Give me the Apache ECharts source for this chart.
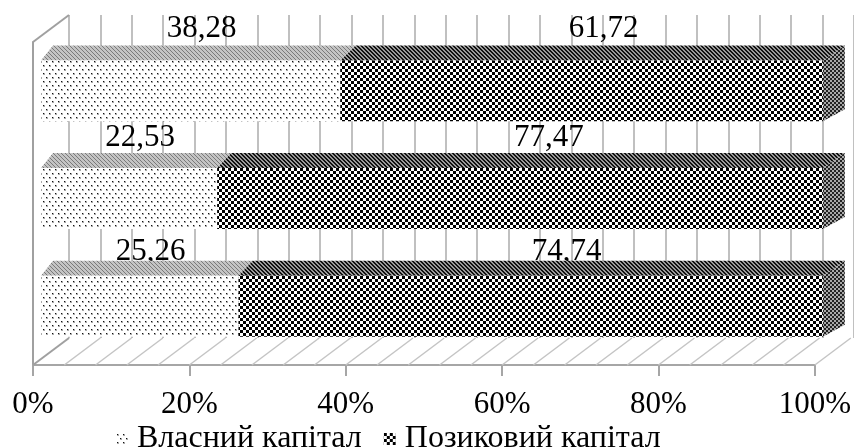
<!DOCTYPE html>
<html>
<head>
<meta charset="utf-8">
<script src="https://cdn.jsdelivr.net/npm/echarts@6/dist/echarts.min.js"></script>
<style>
  html, body { margin: 0; padding: 0; background: #fff; }
  #chart { width: 854px; height: 448px; }
</style>
</head>
<body>
<div id="chart"></div>
<script>
// дані: знизу вгору
const categories = ['1', '2', '3'];
const ownCapital = [25.26, 22.53, 38.28];
const borrowedCapital = [74.74, 77.47, 61.72];
const seriesNames = ['Власний капітал', 'Позиковий капітал'];
// лінії сітки на задній стінці та підлозі (кожні 4%)
const wallTicks = [0, 4, 8, 12, 16, 20, 24, 28, 32, 36, 40, 44, 48, 52, 56, 60, 64, 68, 72, 76, 80, 84, 88, 92, 96, 100];

const FONT = 'Liberation Serif';
const WALL_DX = 36, WALL_DY = 27;

function makePattern(w, h, draw) {
    const c = document.createElement('canvas');
    c.width = w; c.height = h;
    const ctx = c.getContext('2d');
    draw(ctx);
    return { image: c, repeat: 'repeat' };
}

// крапки
const dotFront = makePattern(6, 8, ctx => {
    ctx.fillStyle = '#fff'; ctx.fillRect(0, 0, 6, 8);
    ctx.fillStyle = '#aaa';
    ctx.fillRect(1, 1, 2, 2);
    ctx.fillRect(4, 5, 2, 2);
    ctx.fillStyle = '#111';
    ctx.fillRect(1, 1, 1, 1);
    ctx.fillRect(4, 5, 1, 1);
});
// шахівниця
const checkFront = makePattern(6, 6, ctx => {
    ctx.fillStyle = '#fff'; ctx.fillRect(0, 0, 6, 6);
    ctx.fillStyle = '#000';
    ctx.fillRect(0, 0, 3, 3);
    ctx.fillRect(3, 3, 3, 3);
});
const dotTop = makePattern(4, 4, ctx => {
    ctx.fillStyle = '#c4c4c4'; ctx.fillRect(0, 0, 4, 4);
    ctx.fillStyle = '#7a7a7a';
    for (let i = 0; i < 4; i++) ctx.fillRect(i, i, 1, 1);
});
const checkTop = makePattern(4, 4, ctx => {
    ctx.fillStyle = '#9a9a9a'; ctx.fillRect(0, 0, 4, 4);
    ctx.fillStyle = '#111';
    for (let i = 0; i < 4; i++) {
        ctx.fillRect(i, i, 1, 1);
        ctx.fillRect(i, (i + 1) % 4, 1, 1);
    }
});
const checkSide = makePattern(4, 4, ctx => {
    ctx.fillStyle = '#a8a8a8'; ctx.fillRect(0, 0, 4, 4);
    ctx.fillStyle = '#222';
    ctx.fillRect(0, 0, 2, 2);
    ctx.fillRect(2, 2, 2, 2);
});

const faces = [
    { front: dotFront, top: dotTop, side: dotTop },
    { front: checkFront, top: checkTop, side: checkSide }
];

function barItem(seriesIdx) {
    return function (params, api) {
        const s = api.value(0), e = api.value(1), ci = api.value(2), v = api.value(3);
        const p0 = api.coord([s, ci]);
        const p1 = api.coord([e, ci]);
        const band = api.size([0, 1])[1];
        const h = band * 0.566;
        const cy = p0[1] - band * 0.046;
        const shift = 8;
        const x0 = p0[0] + shift, x1 = p1[0] + shift;
        const top = cy - h / 2, bot = cy + h / 2;
        const dx0 = 12 + 10 * s / 100, dx1 = 12 + 10 * e / 100;
        const dy = 15;
        const f = faces[seriesIdx];
        // підписи зміщені через перспективу: нижчі ряди — нижче й правіше
        const depth = (categories.length - 1 - ci) / (categories.length - 1);
        const labelShift = seriesIdx === 0 ? 11 : 22 + 14 * depth;
        const labelY = top - dy - 17 + 8 * depth * depth;
        return {
            type: 'group',
            children: [
                {
                    type: 'text',
                    style: {
                        text: v.toFixed(2).replace('.', ','),
                        x: (x0 + x1) / 2 + labelShift,
                        y: labelY,
                        align: 'center',
                        verticalAlign: 'middle',
                        font: '31px "' + FONT + '"',
                        fill: '#000'
                    }
                },
                {
                    type: 'polygon',
                    shape: { points: [[x1, top], [x1 + dx1, top - dy], [x1 + dx1, bot - dy + 3], [x1, bot]] },
                    style: { fill: f.side }
                },
                {
                    type: 'polygon',
                    shape: { points: [[x0, top], [x1, top], [x1 + dx1, top - dy], [x0 + dx0, top - dy]] },
                    style: { fill: f.top }
                },
                {
                    type: 'rect',
                    shape: { x: x0, y: top, width: x1 - x0, height: bot - top },
                    style: { fill: f.front }
                }
            ]
        };
    };
}

function frameItem(params, api) {
    const v = api.value(0);
    const cs = params.coordSys;
    const x = api.coord([v, 0])[0];
    const fy = cs.y + cs.height;
    const children = [{
        type: 'line',
        shape: { x1: x, y1: fy, x2: x + WALL_DX, y2: fy - WALL_DY },
        style: { stroke: v === 0 ? '#a0a0a0' : '#c4c4c4', lineWidth: v === 0 ? 2 : 1.5 }
    }];
    if (params.dataIndex === 0) {
        children.push({
            type: 'line',
            shape: { x1: cs.x, y1: cs.y, x2: cs.x + WALL_DX, y2: cs.y - WALL_DY },
            style: { stroke: '#a0a0a0', lineWidth: 2 }
        });
    }
    return { type: 'group', children: children };
}

const chart = echarts.init(document.getElementById('chart'));

const option = {
    animation: false,
    grid: [
        { left: 33, width: 789, top: 42, height: 323 },
        { left: 33 + WALL_DX, width: 789, top: 42 - WALL_DY, height: 323 }
    ],
    xAxis: [
        {
            gridIndex: 0, type: 'value', min: 0, max: 100, interval: 20,
            axisLine: { show: true, lineStyle: { color: '#a6a6a6', width: 2 } },
            axisTick: { show: true, length: 11, lineStyle: { color: '#a6a6a6', width: 2 } },
            axisLabel: { formatter: '{value}%', fontFamily: FONT, fontSize: 31, color: '#000', margin: 24 },
            splitLine: { show: false }
        },
        {
            gridIndex: 1, type: 'value', min: 0, max: 100, interval: 4,
            axisLine: { show: false }, axisTick: { show: false }, axisLabel: { show: false },
            splitLine: { show: true, lineStyle: { color: '#c0c0c0', width: 2 } }
        }
    ],
    yAxis: [
        {
            gridIndex: 0, type: 'category', data: categories,
            axisLine: { show: true, lineStyle: { color: '#a0a0a0', width: 2 } },
            axisTick: { show: false }, axisLabel: { show: false }, splitLine: { show: false }
        },
        { gridIndex: 1, type: 'value', show: false }
    ],
    legend: {
        data: [
            { name: seriesNames[0], itemStyle: { color: dotFront } },
            { name: seriesNames[1], itemStyle: { color: checkFront } }
        ],
        left: 116, top: 423,
        icon: 'rect', itemWidth: 12, itemHeight: 12, itemGap: 22, padding: 0,
        textStyle: { fontFamily: FONT, fontSize: 32, color: '#000', padding: [0, 0, 0, 4] }
    },
    series: [
        {
            type: 'custom', name: 'frame', xAxisIndex: 0, yAxisIndex: 0, z: 1,
            data: wallTicks.map(v => [v]),
            encode: { x: 0 },
            renderItem: frameItem,
            silent: true
        },
        {
            type: 'custom', name: seriesNames[0], xAxisIndex: 0, yAxisIndex: 0, z: 2,
            itemStyle: { color: dotFront },
            data: categories.map((c, i) => [0, ownCapital[i], i, ownCapital[i]]),
            encode: { x: [0, 1], y: 2 },
            renderItem: barItem(0)
        },
        {
            type: 'custom', name: seriesNames[1], xAxisIndex: 0, yAxisIndex: 0, z: 3,
            itemStyle: { color: checkFront },
            data: categories.map((c, i) => [ownCapital[i], ownCapital[i] + borrowedCapital[i], i, borrowedCapital[i]]),
            encode: { x: [0, 1], y: 2 },
            renderItem: barItem(1)
        }
    ]
};

chart.setOption(option);
</script>
</body>
</html>
